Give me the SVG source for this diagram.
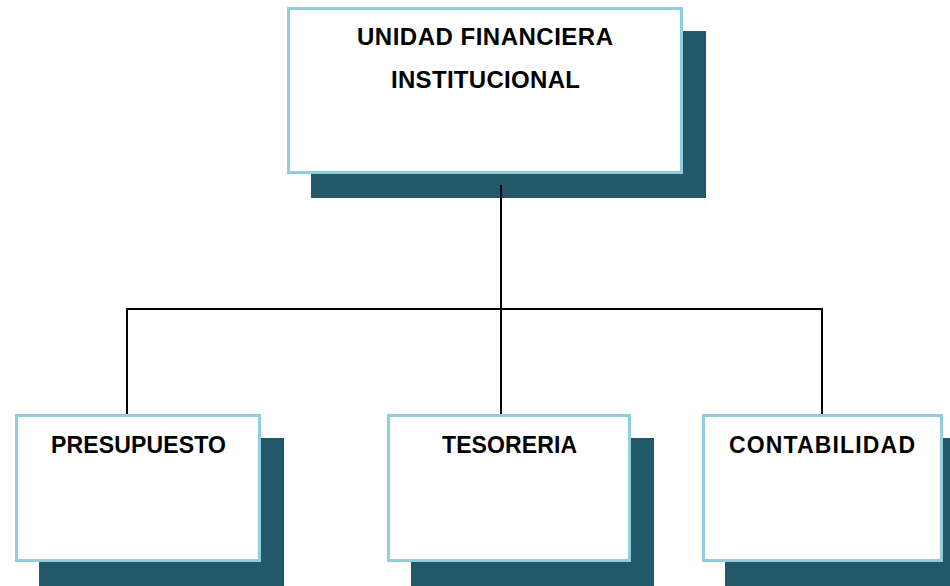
<svg xmlns="http://www.w3.org/2000/svg" width="950" height="586" viewBox="0 0 950 586">
<style>
.shadow{fill:#215968}
.box{fill:#ffffff;stroke:#92cddc;stroke-width:3}
.lbl{font-family:"Liberation Sans",Arial,sans-serif;font-weight:bold;fill:#000;text-anchor:middle}
.conn{stroke:#000;stroke-width:2;fill:none}
</style>
<rect width="950" height="586" fill="#ffffff"/>
<g id="node-unidad">
<rect class="shadow" x="311" y="31" width="395" height="167"/>
<rect class="box" x="288.5" y="8.5" width="393" height="164"/>
<text class="lbl" x="485" y="45" font-size="24" textLength="256" lengthAdjust="spacing">UNIDAD FINANCIERA</text>
<text class="lbl" x="485.5" y="88" font-size="24" textLength="189" lengthAdjust="spacing">INSTITUCIONAL</text>
</g>
<g id="connectors">
<path class="conn" d="M501,185 V309"/>
<path class="conn" d="M127,309 H822"/>
<path class="conn" d="M127,308 V415"/>
<path class="conn" d="M501,309 V415"/>
<path class="conn" d="M822,308 V415"/>
</g>
<g id="node-presupuesto">
<rect class="shadow" x="39" y="438" width="245" height="148"/>
<rect class="box" x="16.5" y="415.5" width="243" height="145"/>
<text class="lbl" x="138.5" y="453" font-size="23" textLength="175" lengthAdjust="spacing">PRESUPUESTO</text>
</g>
<g id="node-tesoreria">
<rect class="shadow" x="411" y="438" width="243" height="148"/>
<rect class="box" x="388.5" y="415.5" width="241" height="145"/>
<text class="lbl" x="509.5" y="453" font-size="23" textLength="135" lengthAdjust="spacing">TESORERIA</text>
</g>
<g id="node-contabilidad">
<rect class="shadow" x="725" y="438" width="225" height="148"/>
<rect class="box" x="703.5" y="415.5" width="238" height="145"/>
<text class="lbl" x="822" y="453" font-size="23" textLength="186" lengthAdjust="spacing">CONTABILIDAD</text>
</g>
</svg>
